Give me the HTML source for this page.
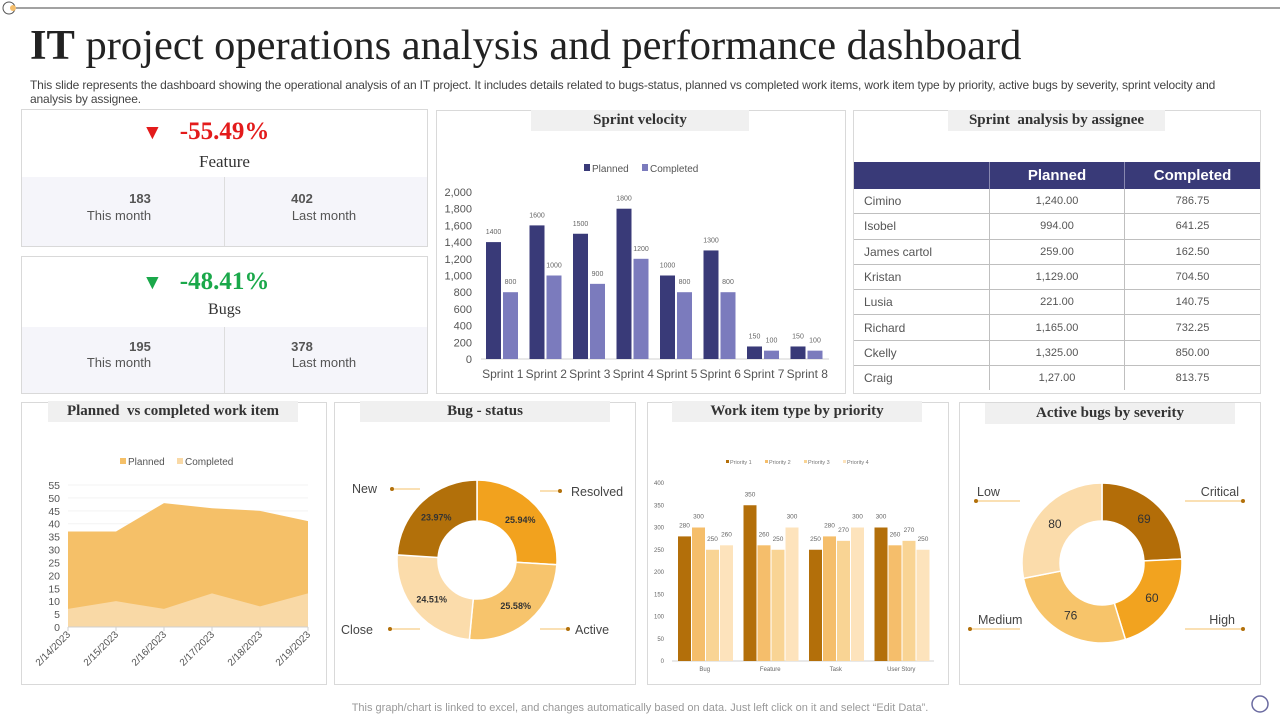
<!DOCTYPE html>
<html><head><meta charset="utf-8">
<style>
body{margin:0;width:1280px;height:720px;position:relative;background:#fff;font-family:"Liberation Sans",sans-serif;overflow:hidden}
.a{position:absolute}
.panel{position:absolute;border:1px solid #d9d9d9;background:#fff;box-sizing:border-box}
.ttl{position:absolute;background:#f0f0f0;font-family:"Liberation Serif",serif;font-weight:bold;font-size:15px;color:#333;text-align:center;height:21px;line-height:20px}
.shade{position:absolute;background:#f5f5fa}
.num{font-size:13px;font-weight:bold;color:#555;text-align:center;position:absolute}
.lab{font-size:13px;color:#555;text-align:center;position:absolute}
table{border-collapse:collapse;font-size:12px;color:#555;table-layout:fixed}
td{height:24.3px;border-bottom:1px solid #bfbfbf;padding:0}
td.c{text-align:center;border-left:1px solid #bfbfbf;font-size:11px}
th{background:#393a78;color:#fff;font-size:15px;height:27px;border-left:1px solid #8888b0;padding:0}
svg text{font-family:"Liberation Sans",sans-serif}
</style></head><body>
<svg class="a" style="left:0;top:0" width="1280" height="20"><line x1="14" y1="8" x2="1280" y2="8" stroke="#444" stroke-width="1"/><circle cx="9" cy="8" r="6" fill="#fff" stroke="#555"/><circle cx="13" cy="8" r="3" fill="#f5be6b"/></svg>
<div class="a" style="left:30px;top:21px;font-family:'Liberation Serif',serif;font-size:42.5px;color:#222;white-space:nowrap"><b>IT</b> project operations analysis and performance dashboard</div>
<div class="a" style="left:30px;top:78px;width:1205px;font-size:12px;color:#444;line-height:14px;letter-spacing:-0.15px">This slide represents the dashboard showing the operational analysis of an IT project. It includes details related to bugs-status, planned vs completed work items, work item type by priority, active bugs by severity, sprint velocity and analysis by assignee.</div>

<div class="panel" style="left:21px;top:109px;width:407px;height:138px">
 <div class="shade" style="left:0;top:67px;width:405px;height:69px"></div>
 <div class="a" style="left:202px;top:67px;width:1px;height:69px;background:#ddd"></div>
 <div class="a" style="left:120px;top:8px;font-family:'Liberation Serif',serif;font-size:25px;font-weight:bold;color:#e31b1b"><span style="font-size:21px;margin-right:17px">▼</span>-55.49%</div>
 <div class="a" style="left:0;top:42px;width:405px;text-align:center;font-family:'Liberation Serif',serif;font-size:17px;color:#333">Feature</div>
 <div class="num" style="left:18px;top:81px;width:200px">183</div><div class="lab" style="left:0;top:98px;width:194px">This month</div>
 <div class="num" style="left:180px;top:81px;width:200px">402</div><div class="lab" style="left:200px;top:98px;width:204px">Last month</div>
</div>
<div class="panel" style="left:21px;top:256px;width:407px;height:138px">
 <div class="shade" style="left:0;top:70px;width:405px;height:66px"></div>
 <div class="a" style="left:202px;top:70px;width:1px;height:66px;background:#ddd"></div>
 <div class="a" style="left:120px;top:11px;font-family:'Liberation Serif',serif;font-size:25px;font-weight:bold;color:#1aa84a"><span style="font-size:21px;margin-right:17px">▼</span>-48.41%</div>
 <div class="a" style="left:0;top:44px;width:405px;text-align:center;font-family:'Liberation Serif',serif;font-size:16px;color:#333">Bugs</div>
 <div class="num" style="left:18px;top:82px;width:200px">195</div><div class="lab" style="left:0;top:98px;width:194px">This month</div>
 <div class="num" style="left:180px;top:82px;width:200px">378</div><div class="lab" style="left:200px;top:98px;width:204px">Last month</div>
</div>

<div class="panel" style="left:436px;top:110px;width:410px;height:284px"></div>
<div class="ttl" style="left:531px;top:110px;width:218px">Sprint velocity</div>

<div class="panel" style="left:853px;top:110px;width:408px;height:284px">
<table style="position:absolute;left:0;top:51px;width:406px">
<tr><th style="width:135px;border-left:none"></th><th style="width:134px">Planned</th><th>Completed</th></tr>
<tr><td style="padding-left:10px">Cimino</td><td class="c">1,240.00</td><td class="c">786.75</td></tr>
<tr><td style="padding-left:10px">Isobel</td><td class="c">994.00</td><td class="c">641.25</td></tr>
<tr><td style="padding-left:10px">James cartol</td><td class="c">259.00</td><td class="c">162.50</td></tr>
<tr><td style="padding-left:10px">Kristan</td><td class="c">1,129.00</td><td class="c">704.50</td></tr>
<tr><td style="padding-left:10px">Lusia</td><td class="c">221.00</td><td class="c">140.75</td></tr>
<tr><td style="padding-left:10px">Richard</td><td class="c">1,165.00</td><td class="c">732.25</td></tr>
<tr><td style="padding-left:10px">Ckelly</td><td class="c">1,325.00</td><td class="c">850.00</td></tr>
<tr><td style="padding-left:10px;border-bottom:none">Craig</td><td class="c" style="border-bottom:none">1,27.00</td><td class="c" style="border-bottom:none">813.75</td></tr>
</table></div>
<div class="ttl" style="left:948px;top:110px;width:217px">Sprint &nbsp;analysis by assignee</div>

<div class="panel" style="left:21px;top:402px;width:306px;height:283px"></div>
<div class="ttl" style="left:48px;top:401px;width:250px">Planned &nbsp;vs completed work item</div>
<div class="panel" style="left:334px;top:402px;width:302px;height:283px"></div>
<div class="ttl" style="left:360px;top:401px;width:250px">Bug - status</div>
<div class="panel" style="left:647px;top:402px;width:302px;height:283px"></div>
<div class="ttl" style="left:672px;top:401px;width:250px">Work item type by priority</div>
<div class="panel" style="left:959px;top:402px;width:302px;height:283px"></div>
<div class="ttl" style="left:985px;top:403px;width:250px">Active bugs by severity</div>

<div class="a" style="left:0;top:702px;width:1280px;text-align:center;font-size:11px;color:#999">This graph/chart is linked to excel, and changes automatically based on data. Just left click on it and select “Edit Data”.</div>
<svg class="a" style="left:1248px;top:694px" width="24" height="24"><circle cx="12" cy="10" r="8" fill="none" stroke="#6a6aa0" stroke-width="1.5"/></svg>

<svg id="ch" class="a" style="left:0;top:0" width="1280" height="720"></svg>
<script>
const sprints=["Sprint 1","Sprint 2","Sprint 3","Sprint 4","Sprint 5","Sprint 6","Sprint 7","Sprint 8"];
const velPlanned=[1400,1600,1500,1800,1000,1300,150,150];
const velCompleted=[800,1000,900,1200,800,800,100,100];
const velTicks=[0,200,400,600,800,1000,1200,1400,1600,1800,2000];
const areaDates=["2/14/2023","2/15/2023","2/16/2023","2/17/2023","2/18/2023","2/19/2023"];
const areaPlanned=[37,37,48,46,45,41];
const areaCompleted=[7,10,7,13,8,13];
const areaTicks=[0,5,10,15,20,25,30,35,40,45,50,55];
const bugLabels=["Resolved","Active","Close","New"];
const bugValues=[25.94,25.58,24.51,23.97];
const prCats=["Bug","Feature","Task","User Story"];
const prSeries=["Priority 1","Priority 2","Priority 3","Priority 4"];
const pr1=[280,350,250,300];
const pr2=[300,260,280,260];
const pr3=[250,250,270,270];
const pr4=[260,300,300,250];
const prTicks=[0,50,100,150,200,250,300,350,400];
const sevLabels=["Critical","High","Medium","Low"];
const sevValues=[69,60,76,80];

const S=document.getElementById('ch'),NS="http://www.w3.org/2000/svg";
function mk(t,a,txt){const e=document.createElementNS(NS,t);for(const k in a)e.setAttribute(k,a[k]);if(txt!==undefined)e.textContent=txt;S.appendChild(e);return e;}
const fmt=n=>n.toLocaleString('en-US');

// Sprint velocity
{const y0=359,y1=192,x0=481,x1=829,gw=(x1-x0)/sprints.length;
const y=v=>y0-(v/2000)*(y0-y1);
velTicks.forEach(t=>{const e=mk('text',{x:472,y:y(t)+4,'text-anchor':'end','font-size':11,fill:'#555'},fmt(t));});
mk('line',{x1:x0,x2:x1,y1:y0,y2:y0,stroke:'#d0d0d0'});
sprints.forEach((s,i)=>{const gx=x0+i*gw;
 let b=mk('rect',{x:gx+5,y:y(velPlanned[i]),width:15,height:y0-y(velPlanned[i]),fill:'#393a78'});
 b=mk('rect',{x:gx+22,y:y(velCompleted[i]),width:15,height:y0-y(velCompleted[i]),fill:'#7b7bbd'});
 mk('text',{x:gx+12.5,y:y(velPlanned[i])-8,'text-anchor':'middle','font-size':7,fill:'#666'},velPlanned[i]);
 mk('text',{x:gx+29.5,y:y(velCompleted[i])-8,'text-anchor':'middle','font-size':7,fill:'#666'},velCompleted[i]);
 const t=mk('text',{x:gx+gw/2,y:378,'text-anchor':'middle','font-size':12,fill:'#555'},s);
});
mk('rect',{x:584,y:164,width:6,height:7,fill:'#393a78'});mk('text',{x:592,y:172,'font-size':10,fill:'#555'},'Planned');
mk('rect',{x:642,y:164,width:6,height:7,fill:'#7b7bbd'});mk('text',{x:650,y:172,'font-size':10,fill:'#555'},'Completed');}

// Area chart
{const y0=627,y1=485,x0=68,x1=308;const y=v=>y0-(v/55)*(y0-y1);const x=i=>x0+i*(x1-x0)/(areaDates.length-1);
areaTicks.forEach(t=>{if(t>0)mk('line',{x1:x0,x2:x1,y1:y(t),y2:y(t),stroke:'#f3f3f3'});const e=mk('text',{x:60,y:y(t)+4,'text-anchor':'end','font-size':10.5,fill:'#555'},t);});
let p=`M${x0},${y0} `+areaPlanned.map((v,i)=>`L${x(i)},${y(v)}`).join(' ')+` L${x1},${y0}Z`;
let e=mk('path',{d:p,fill:'#f5c068'});
p=`M${x0},${y0} `+areaCompleted.map((v,i)=>`L${x(i)},${y(v)}`).join(' ')+` L${x1},${y0}Z`;
e=mk('path',{d:p,fill:'#f9d9a6'});
mk('line',{x1:x0,x2:x1,y1:y0,y2:y0,stroke:'#d0d0d0'});
areaDates.forEach((d,i)=>{mk('line',{x1:x(i),x2:x(i),y1:y0,y2:y0+4,stroke:'#d0d0d0'});const t=mk('text',{x:x(i)+3,y:y0+8,'text-anchor':'end','font-size':10,fill:'#555',transform:`rotate(-45 ${x(i)+3} ${y0+8})`},d);});
mk('rect',{x:120,y:458,width:6,height:6,fill:'#f5c068'});mk('text',{x:128,y:465,'font-size':10,fill:'#555'},'Planned');
mk('rect',{x:177,y:458,width:6,height:6,fill:'#f9d9a6'});mk('text',{x:185,y:465,'font-size':10,fill:'#555'},'Completed');}

// Donut helper
function donut(cx,cy,R,r,vals,cols,labels,name){const tot=vals.reduce((a,b)=>a+b,0);let a=-Math.PI/2;
vals.forEach((v,i)=>{const a2=a+v/tot*2*Math.PI,lg=(a2-a)>Math.PI?1:0;
 const P=(rr,aa)=>`${cx+rr*Math.cos(aa)},${cy+rr*Math.sin(aa)}`;
 const e=mk('path',{d:`M${P(R,a)} A${R},${R} 0 ${lg} 1 ${P(R,a2)} L${P(r,a2)} A${r},${r} 0 ${lg} 0 ${P(r,a)}Z`,fill:cols[i],stroke:'#fff','stroke-width':1.5});
 
 const m=(a+a2)/2,rm=(R+r)/2;mk('text',{x:cx+rm*Math.cos(m),y:cy+rm*Math.sin(m)+4,'text-anchor':'middle','font-size':labels.size,'font-weight':labels.bold?'bold':'normal',fill:'#333'},labels.f(v));
 a=a2;});}
donut(477,560,80,39,bugValues,['#f2a21e','#f7c46c','#fbdcab','#b2700a'],{size:9,bold:true,f:v=>v.toFixed(2)+'%'},'bug-status-slice');
donut(1102,563,80,42,sevValues,['#b36d08','#f2a31f','#f7c46a','#fbdcab'],{size:12,bold:false,f:v=>v},'severity-slice');
function call(x1,y1,x2,y2,tx,ty,anchor,txt){mk('line',{x1,y1,x2,y2,stroke:'#f5c068'});mk('circle',{cx:x1,cy:y1,r:2,fill:'#b2700a'});mk('text',{x:tx,y:ty,'text-anchor':anchor,'font-size':12.5,fill:'#444'},txt);}
call(392,489,420,489,377,493,'end','New');call(560,491,540,491,571,496,'start','Resolved');
call(390,629,420,629,373,634,'end','Close');call(568,629,540,629,575,634,'start','Active');
call(976,501,1020,501,977,496,'start','Low');call(1243,501,1185,501,1239,496,'end','Critical');
call(970,629,1020,629,978,624,'start','Medium');call(1243,629,1185,629,1235,624,'end','High');

// Priority chart
{const y0=661,y1=483,x0=672,x1=934,gw=(x1-x0)/prCats.length;const y=v=>y0-(v/400)*(y0-y1);
const cols=['#b36f0a','#f5be6b','#f9d494','#fde3bc'];const ser=[pr1,pr2,pr3,pr4];
prTicks.forEach(t=>{const e=mk('text',{x:664,y:y(t)+2,'text-anchor':'end','font-size':6,fill:'#666'},t);});
mk('line',{x1:x0,x2:x1,y1:y0,y2:y0,stroke:'#d0d0d0'});
prCats.forEach((c,i)=>{const gx=x0+i*gw;ser.forEach((s,j)=>{const bx=gx+6+j*14;
 const b=mk('rect',{x:bx,y:y(s[i]),width:13,height:y0-y(s[i]),fill:cols[j]});
 mk('text',{x:bx+6.5,y:y(s[i])-9,'text-anchor':'middle','font-size':6.5,fill:'#666'},s[i]);});
 mk('text',{x:gx+gw/2,y:671,'text-anchor':'middle','font-size':6,fill:'#666'},c);});
prSeries.forEach((s,j)=>{const lx=726+j*39;mk('rect',{x:lx,y:460,width:3,height:3,fill:cols[j]});mk('text',{x:lx+4,y:464,'font-size':5.5,fill:'#777'},s);});}
</script>
</body></html>
